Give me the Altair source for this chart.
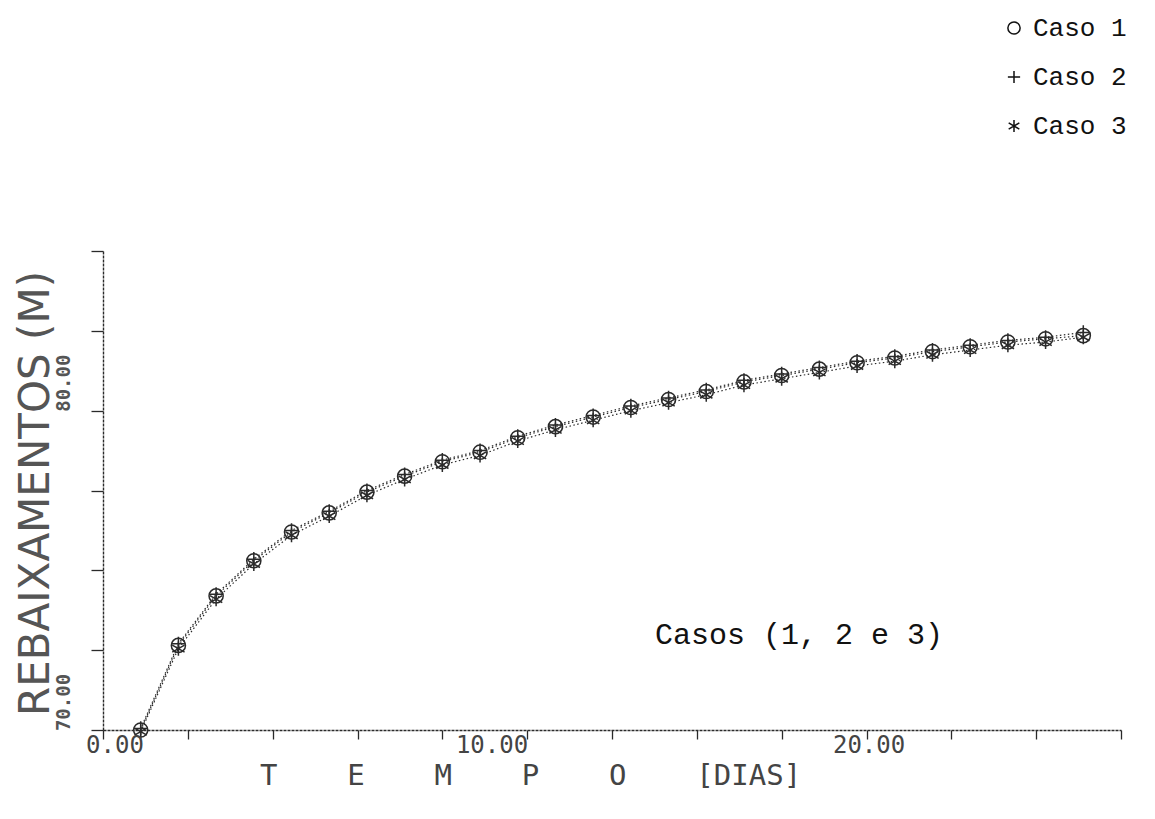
import altair as alt
import pandas as pd

# ---- data ----
tempo = [1, 2, 3, 4, 5, 6, 7, 8, 9, 10, 11, 12, 13, 14, 15, 16, 17, 18, 19, 20, 21, 22, 23, 24, 25, 26]
caso1 = [70.00, 72.65, 74.20, 75.30, 76.20, 76.80, 77.45, 77.95, 78.40, 78.70, 79.15, 79.50, 79.80,
         80.10, 80.35, 80.60, 80.90, 81.10, 81.30, 81.50, 81.65, 81.85, 82.00, 82.15, 82.25, 82.35]
caso2 = [70.05, 72.70, 74.25, 75.35, 76.25, 76.85, 77.50, 78.00, 78.45, 78.75, 79.20, 79.55, 79.85,
         80.15, 80.40, 80.65, 80.95, 81.15, 81.35, 81.55, 81.70, 81.90, 82.05, 82.20, 82.30, 82.45]
caso3 = [69.95, 72.55, 74.10, 75.20, 76.10, 76.70, 77.35, 77.85, 78.30, 78.60, 79.05, 79.40, 79.70,
         80.00, 80.25, 80.50, 80.80, 81.00, 81.20, 81.40, 81.55, 81.75, 81.90, 82.05, 82.15, 82.30]
casos = ["Caso 1", "Caso 2", "Caso 3"]
x_ticks = [0, 2.25, 4.5, 6.75, 9, 11.25, 13.5, 15.75, 18, 20.25, 22.5, 24.75, 27]
x_label_vals = [0, 10, 20]
x_label_txt = ["0.00", "10.00", "20.00"]
y_ticks = [70, 72.5, 75, 77.5, 80, 82.5, 85]
annotation = ["Casos (1, 2 e 3)"]

rows = []
for nome, serie in zip(casos, [caso1, caso2, caso3]):
    for t, v in zip(tempo, serie):
        rows.append({"tempo": t, "rebaix": v, "caso": nome})
df = pd.DataFrame(rows)
xlab = pd.DataFrame({"tempo": x_label_vals, "txt": x_label_txt})

INK = "#2a2a2a"
MONO = "DejaVu Sans Mono"
plus_path = "M-1,0L1,0M0,-1L0,1"
star_path = "M0,-1L0,1M-0.87,-0.5L0.87,0.5M-0.87,0.5L0.87,-0.5"
H = 479

x_scale = alt.Scale(domain=[0, 27], nice=False, zero=False)
y_scale = alt.Scale(domain=[70, 85], nice=False, zero=False)

x_enc = alt.X(
    "tempo:Q",
    scale=x_scale,
    axis=alt.Axis(
        values=x_ticks, labels=False, grid=False,
        tickSize=9, tickColor=INK, tickWidth=1.3,
        domainColor=INK, domainWidth=1.4, domainDash=[3, 1],
        title="T\u00a0\u00a0\u00a0\u00a0E\u00a0\u00a0\u00a0\u00a0M\u00a0\u00a0\u00a0\u00a0P\u00a0\u00a0\u00a0\u00a0O\u00a0\u00a0\u00a0\u00a0[DIAS]",
        titleFont=MONO, titleFontSize=29, titleFontWeight="normal", titleColor="#444",
        titleX=427, titleY=45, titleAlign="center", titleBaseline="middle",
    ),
)
y_enc = alt.Y(
    "rebaix:Q",
    scale=y_scale,
    axis=alt.Axis(
        values=y_ticks,
        labelExpr="datum.value % 10 === 0 ? format(datum.value, '.2f') : ''",
        grid=False,
        tickSize=12, tickColor=INK, tickWidth=1.3,
        domainColor=INK, domainWidth=1.4, domainDash=[3, 1],
        labelFont=MONO, labelFontSize=19, labelFontWeight="bold", labelColor="#555",
        labelAngle=270, labelAlign="center", labelBaseline="bottom",
        labelPadding=18, labelOffset=-28, labelFlush=False, labelOverlap=False,
        title="REBAIXAMENTOS (M)",
        titleFont="DejaVu Sans", titleFontSize=42, titleFontWeight="normal", titleColor="#555",
        titleAngle=270, titleAlign="center", titleBaseline="middle",
        titleX=-68, titleY=242,
    ),
)

base = alt.Chart(df)

line = base.mark_line(color=INK, strokeWidth=1.2, strokeDash=[1.5, 2.5]).encode(
    x=x_enc, y=y_enc, detail="caso:N"
)

points = base.mark_point(filled=False, color=INK, strokeWidth=1.5, size=200, opacity=1).encode(
    x=alt.X("tempo:Q", scale=x_scale),
    y=alt.Y("rebaix:Q", scale=y_scale),
    shape=alt.Shape(
        "caso:N",
        scale=alt.Scale(domain=casos, range=["circle", plus_path, star_path]),
        legend=alt.Legend(
            title=None, orient="none", legendX=898, legendY=-236,
            labelFont="Liberation Mono", labelFontSize=26, labelColor="#111",
            labelOffset=6, rowPadding=23, symbolSize=150,
            symbolStrokeColor="#111", symbolStrokeWidth=1.5, symbolFillColor="transparent",
        ),
    ),
)

xlabels = alt.Chart(xlab).mark_text(
    font=MONO, fontSize=24, color="#444", align="center", baseline="top", dx=12
).encode(x=alt.X("tempo:Q", scale=x_scale), y=alt.value(H + 4), text="txt:N")

note = alt.Chart(pd.DataFrame({"txt": annotation})).mark_text(
    font="Liberation Mono", fontSize=30, color="#111", align="left", baseline="middle"
).encode(text="txt:N", x=alt.value(552), y=alt.value(384))

chart = (
    alt.layer(line, points, xlabels, note)
    .properties(
        width=1018, height=H,
        autosize=alt.AutoSizeParams(type="none"),
        padding={"left": 95, "top": 243, "right": 10, "bottom": 60},
        background="white",
    )
    .configure_view(stroke=None)
)

chart.save("out.html", embed_options={"renderer": "svg", "actions": False})
